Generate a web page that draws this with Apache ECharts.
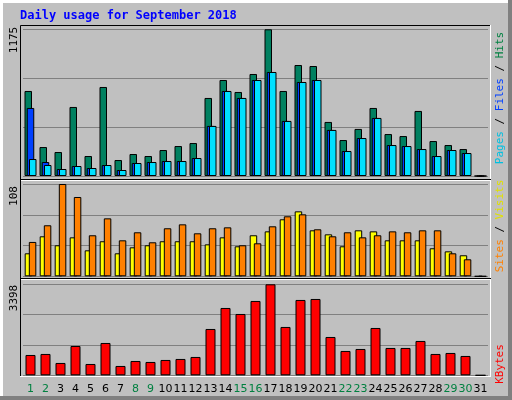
<!DOCTYPE html>
<html><head><meta charset="utf-8">
<script src="https://cdn.jsdelivr.net/npm/echarts@6/dist/echarts.min.js"></script>
<style>html,body{margin:0;padding:0;background:#c0c0c0}#c{width:512px;height:400px}</style>
</head><body><div id="c"></div>
<script>
const days = Array.from({length:31},(_,i)=>String(i+1));
const weekend = [1,2,8,9,15,16,22,23,29,30];
const hits  = [681,232,192,553,160,713,128,176,160,208,240,264,625,769,673,817,1175,681,889,881,433,288,377,545,336,320,521,280,248,216,0];
const files = [545,112,56,80,64,88,48,104,112,120,120,144,401,681,625,769,833,441,753,769,369,200,304,465,248,240,216,160,208,184,0];
const pages = [136,88,56,80,64,88,48,104,112,120,120,144,401,681,625,769,833,441,753,769,369,200,304,465,248,240,216,160,208,184,0];
const visits= [26.9,46.8,36.3,45.6,30.4,41,26.9,33.9,36.3,41,41,41,37.4,45.6,35.1,48,52.6,66.7,76,53.8,49.1,35.1,53.8,52.6,42.1,42.1,42.1,32.8,29.2,24.6,0];
const sites = [40.2,59.7,108,92.8,48,67.8,42.1,51.5,39.8,56.2,60.8,50.3,56.2,57.3,36.3,38.6,58.5,70.2,72.5,55,46.8,51.5,45.6,48,52.6,51.5,53.8,53.8,26.9,19.9,0];
const kbytes= [759,797,461,1095,423,1207,349,535,498,573,610,685,1730,2514,2290,2776,3398,1805,2813,2850,1431,909,983,1767,1021,1021,1282,797,834,722,0];
const maxes = [1175,108,3398];
const title = 'Daily usage for September 2018';

const chart = echarts.init(document.getElementById('c'));
const L=23, W=465;
const grids=[{left:L,width:W,top:29.3,height:146.7},{left:L,width:W,top:184,height:92.3},{left:L,width:W,top:284.3,height:91}];
const bs={borderColor:'#000',borderWidth:1};
function xa(i){return {type:'category',gridIndex:i,data:days,boundaryGap:true,axisLine:{show:false},axisTick:{show:false},
  axisLabel:i===2?{show:true,margin:8,fontFamily:'DejaVu Sans',fontSize:11,interval:0,
   formatter:(v)=>weekend.includes(+v)?'{g|'+v+'}':'{b|'+v+'}',rich:{g:{color:'#008040',fontFamily:'DejaVu Sans',fontSize:11},b:{color:'#000',fontFamily:'DejaVu Sans',fontSize:11}}}:{show:false}};}
function ya(i){return {type:'value',gridIndex:i,min:0,max:maxes[i],interval:maxes[i]/3,axisLabel:{show:false},axisLine:{show:false},axisTick:{show:false},
  splitLine:{show:true,lineStyle:{color:'#808080',width:1}}};}
function rt(x,y,parts){return {type:'text',x:x,y:y,rotation:Math.PI/2,style:{text:parts.map(p=>'{'+p[1]+'|'+p[0]+'}').join(''),align:'center',verticalAlign:'middle',
  rich:{h:{fill:'#008040'},f:{fill:'#0040ff'},p:{fill:'#00c0e0'},s:{fill:'#ff8000'},v:{fill:'#e0e000'},k:{fill:'#ff0000'},n:{fill:'#000'}},font:'11px "DejaVu Sans Mono"'}};}
chart.setOption({
  animation:false,backgroundColor:'#c0c0c0',
  grid:grids, xAxis:[xa(0),xa(1),xa(2)], yAxis:[ya(0),ya(1),ya(2)],
  graphic:[
    {type:'rect',shape:{x:0,y:0,width:512,height:400},style:{fill:'#c0c0c0'},z:-10,silent:true},
    {type:'rect',shape:{x:0,y:0,width:512,height:3},style:{fill:'#fff'},z:-9},
    {type:'rect',shape:{x:0,y:0,width:3,height:400},style:{fill:'#fff'},z:-9},
    {type:'rect',shape:{x:508,y:0,width:4,height:400},style:{fill:'#808080'},z:-9},
    {type:'rect',shape:{x:0,y:396,width:512,height:4},style:{fill:'#808080'},z:-9},
    {type:'rect',shape:{x:20.5,y:25.5,width:470,height:351},style:{fill:'#c0c0c0',stroke:'#000',lineWidth:1},z:-8},
    {type:'line',shape:{x1:490.5,y1:25,x2:490.5,y2:377},style:{stroke:'#fff',lineWidth:1},z:-7},
    {type:'line',shape:{x1:20,y1:376.5,x2:491,y2:376.5},style:{stroke:'#fff',lineWidth:1},z:-7},
    {type:'line',shape:{x1:21,y1:179.5,x2:491,y2:179.5},style:{stroke:'#000',lineWidth:1},z:-7},
    {type:'line',shape:{x1:21,y1:180.5,x2:491,y2:180.5},style:{stroke:'#fff',lineWidth:1},z:-7},
    {type:'line',shape:{x1:21,y1:278.5,x2:491,y2:278.5},style:{stroke:'#000',lineWidth:1},z:-7},
    {type:'line',shape:{x1:21,y1:279.5,x2:491,y2:279.5},style:{stroke:'#fff',lineWidth:1},z:-7},
    {type:'text',x:20,y:16,style:{text:title,fill:'#0000ff',font:'bold 12px "DejaVu Sans Mono"',verticalAlign:'middle'}},
    rt(14,40,[[String(maxes[0]),'n']]),
    rt(14,196,[[String(maxes[1]),'n']]),
    rt(14,298,[[String(maxes[2]),'n']]),
    rt(500,98,[['Pages','p'],[' / ','n'],['Files','f'],[' / ','n'],['Hits','h']]),
    rt(500,226,[['Sites','s'],[' / ','n'],['Visits','v']]),
    rt(500,364,[['KBytes','k']])
  ],
  series:[
    {type:'bar',xAxisIndex:0,yAxisIndex:0,data:hits,barWidth:7.5,barGap:'-70%',itemStyle:Object.assign({color:'#008060'},bs)},
    {type:'bar',xAxisIndex:0,yAxisIndex:0,data:files,barWidth:7.5,barGap:'-70%',itemStyle:Object.assign({color:'#0040ff'},bs)},
    {type:'bar',xAxisIndex:0,yAxisIndex:0,data:pages,barWidth:7.5,barGap:'-70%',itemStyle:Object.assign({color:'#00e0ff'},bs)},
    {type:'bar',xAxisIndex:1,yAxisIndex:1,data:visits,barWidth:7.5,barGap:'-45%',itemStyle:Object.assign({color:'#ffff00'},bs)},
    {type:'bar',xAxisIndex:1,yAxisIndex:1,data:sites,barWidth:7.5,barGap:'-45%',itemStyle:Object.assign({color:'#ff8000'},bs)},
    {type:'bar',xAxisIndex:2,yAxisIndex:2,data:kbytes,barWidth:10,itemStyle:Object.assign({color:'#ff0000'},bs)}
  ]
});
</script></body></html>
